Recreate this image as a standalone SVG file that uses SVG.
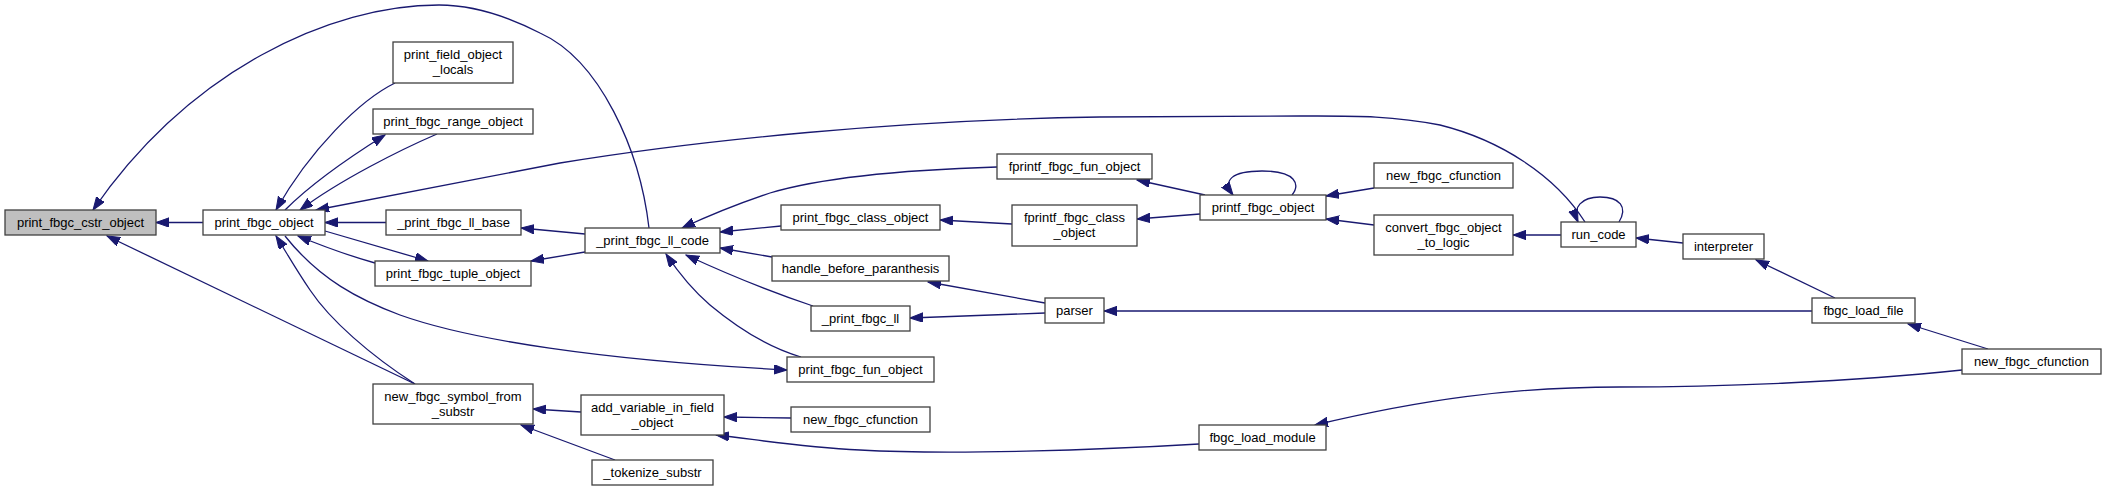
<svg xmlns="http://www.w3.org/2000/svg" width="2107" height="492" viewBox="0 0 2107 492">
<style>
.n rect{fill:#fff;stroke:#404040;stroke-width:1.3}
.n.h rect{fill:#bfbfbf}
.n text{font-family:"Liberation Sans",Arial,sans-serif;font-size:13px;fill:#000;text-anchor:middle}
.e path{fill:none;stroke:#191970;stroke-width:1.3;marker-end:url(#ah)}
</style>
<defs>
<marker id="ah" markerUnits="userSpaceOnUse" markerWidth="14" markerHeight="10" refX="13" refY="4.65" orient="auto" viewBox="0 0 14 10">
<path d="M0,0 L13,4.65 L0,9.3 z" fill="#191970" stroke="#191970" stroke-width="1"/>
</marker>
</defs>
<rect width="2107" height="492" fill="#fff"/>
<g id="connectors" class="e">
<path d="M203,222.5 L156,222.5"/>
<path d="M649,228 C640,150 600,60 540,33 C505,15 470,5 439,5 C330,5 190,70 93,210"/>
<path d="M415,384 L107,236"/>
<path d="M395,83 C360,100 310,150 276,210"/>
<path d="M437,134 C400,150 340,180 300,210"/>
<path d="M285,210 C310,185 345,160 385,135"/>
<path d="M1585,222 C1555,175 1500,140 1440,125 C1390,115 1350,116 1300,116 L1100,117 C900,120 700,140 560,163 L316,210"/>
<path d="M386,222.5 L325,222.5"/>
<path d="M375,263 C350,256 320,245 298,236"/>
<path d="M325,231 L428,261"/>
<path d="M415,384 C370,355 330,320 310,290 C295,268 285,250 276,236"/>
<path d="M285,236 C320,280 360,300 400,315 C470,340 600,360 787,370"/>
<path d="M585,234 L521,228"/>
<path d="M585,252 L531,261"/>
<path d="M997,167 C900,170 820,178 770,193 C740,203 710,215 682,228"/>
<path d="M781,226 L720,232"/>
<path d="M772,257 L720,248"/>
<path d="M813,306 C780,295 740,280 686,255"/>
<path d="M801,357 C770,348 740,330 710,305 C690,288 678,272 666,254"/>
<path d="M1012,224 L940,220"/>
<path d="M1205,195 L1137,180"/>
<path d="M1200,214 L1137,219"/>
<path d="M1292,195 C1300,185 1297,171 1262,171 C1232,171 1222,180 1233,195"/>
<path d="M1374,188 L1326,196"/>
<path d="M1374,225 L1326,219"/>
<path d="M1561,235 L1513,235"/>
<path d="M1619,222 C1628,207 1620,197 1600,197 C1582,197 1572,207 1578,222"/>
<path d="M1683,243 L1636,238"/>
<path d="M1835,298 L1756,260"/>
<path d="M1812,311 L1104,311"/>
<path d="M1988,349 L1908,324"/>
<path d="M1962,370 C1850,382 1720,387 1620,387 C1510,387 1420,400 1315,425"/>
<path d="M1199,444 C1100,450 950,455 860,450 C800,447 760,440 716,435"/>
<path d="M791,418 L724,417"/>
<path d="M581,412 L533,409"/>
<path d="M615,460 L521,425"/>
<path d="M1045,303 L928,282"/>
<path d="M1045,313 L910,318"/>
</g>
<g id="print_fbgc_cstr_object" class="n h"><rect x="5" y="210" width="151" height="25"/><text x="80.5" y="226.5">print_fbgc_cstr_object</text></g>
<g id="print_fbgc_object" class="n"><rect x="203" y="210" width="122" height="25"/><text x="264" y="226.5">print_fbgc_object</text></g>
<g id="print_field_object_locals" class="n"><rect x="393" y="42" width="120" height="41"/><text x="453" y="59">print_field_object</text><text x="453" y="73.5">_locals</text></g>
<g id="print_fbgc_range_object" class="n"><rect x="373" y="109" width="160" height="25"/><text x="453" y="125.5">print_fbgc_range_object</text></g>
<g id="_print_fbgc_ll_base" class="n"><rect x="386" y="210" width="135" height="25"/><text x="453.5" y="226.5">_print_fbgc_ll_base</text></g>
<g id="print_fbgc_tuple_object" class="n"><rect x="375" y="261" width="156" height="25"/><text x="453" y="277.5">print_fbgc_tuple_object</text></g>
<g id="new_fbgc_symbol_from_substr" class="n"><rect x="373" y="384" width="160" height="40"/><text x="453" y="401">new_fbgc_symbol_from</text><text x="453" y="415.5">_substr</text></g>
<g id="_print_fbgc_ll_code" class="n"><rect x="585" y="228" width="135" height="25"/><text x="652.5" y="244.5">_print_fbgc_ll_code</text></g>
<g id="fprintf_fbgc_fun_object" class="n"><rect x="997" y="154" width="155" height="25"/><text x="1074.5" y="170.5">fprintf_fbgc_fun_object</text></g>
<g id="print_fbgc_class_object" class="n"><rect x="781" y="205" width="159" height="25"/><text x="860.5" y="221.5">print_fbgc_class_object</text></g>
<g id="fprintf_fbgc_class_object" class="n"><rect x="1012" y="205" width="125" height="41"/><text x="1074.5" y="222">fprintf_fbgc_class</text><text x="1074.5" y="236.5">_object</text></g>
<g id="handle_before_paranthesis" class="n"><rect x="772" y="256" width="177" height="25"/><text x="860.5" y="272.5">handle_before_paranthesis</text></g>
<g id="_print_fbgc_ll" class="n"><rect x="811" y="306" width="99" height="25"/><text x="860.5" y="322.5">_print_fbgc_ll</text></g>
<g id="parser" class="n"><rect x="1045" y="298" width="59" height="25"/><text x="1074.5" y="314.5">parser</text></g>
<g id="print_fbgc_fun_object" class="n"><rect x="787" y="357" width="147" height="25"/><text x="860.5" y="373.5">print_fbgc_fun_object</text></g>
<g id="add_variable_in_field_object" class="n"><rect x="581" y="395" width="143" height="40"/><text x="652.5" y="412">add_variable_in_field</text><text x="652.5" y="426.5">_object</text></g>
<g id="new_fbgc_cfunction_mid" class="n"><rect x="791" y="407" width="139" height="25"/><text x="860.5" y="423.5">new_fbgc_cfunction</text></g>
<g id="_tokenize_substr" class="n"><rect x="592" y="460" width="121" height="25"/><text x="652.5" y="476.5">_tokenize_substr</text></g>
<g id="printf_fbgc_object" class="n"><rect x="1200" y="195" width="126" height="25"/><text x="1263" y="211.5">printf_fbgc_object</text></g>
<g id="new_fbgc_cfunction_top" class="n"><rect x="1374" y="163" width="139" height="25"/><text x="1443.5" y="179.5">new_fbgc_cfunction</text></g>
<g id="convert_fbgc_object_to_logic" class="n"><rect x="1374" y="215" width="139" height="40"/><text x="1443.5" y="232">convert_fbgc_object</text><text x="1443.5" y="246.5">_to_logic</text></g>
<g id="run_code" class="n"><rect x="1561" y="222" width="75" height="25"/><text x="1598.5" y="238.5">run_code</text></g>
<g id="fbgc_load_module" class="n"><rect x="1199" y="425" width="127" height="25"/><text x="1262.5" y="441.5">fbgc_load_module</text></g>
<g id="interpreter" class="n"><rect x="1683" y="234" width="81" height="25"/><text x="1723.5" y="250.5">interpreter</text></g>
<g id="fbgc_load_file" class="n"><rect x="1812" y="298" width="103" height="25"/><text x="1863.5" y="314.5">fbgc_load_file</text></g>
<g id="new_fbgc_cfunction_right" class="n"><rect x="1962" y="349" width="139" height="25"/><text x="2031.5" y="365.5">new_fbgc_cfunction</text></g>
</svg>
